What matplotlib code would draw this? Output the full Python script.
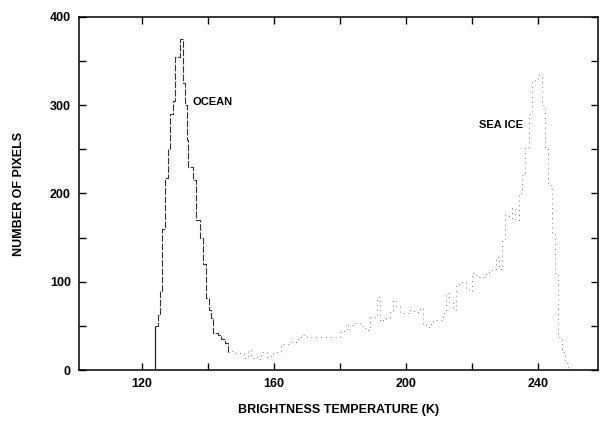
import numpy as np
import matplotlib
matplotlib.use("Agg")
import matplotlib.pyplot as plt
from matplotlib.ticker import MultipleLocator

plt.rcParams['font.family'] = ['Liberation Sans', 'DejaVu Sans']

# left edges of histogram steps (K) and pixel counts
ocean_temp = [124.0, 125.0, 125.5, 126.0, 127.0, 128.0, 128.5, 129.5, 130.0, 131.5,
              132.5, 133.0, 133.5, 134.0, 135.5, 136.5, 137.5, 138.5, 139.5, 140.2,
              141.0, 141.5, 143.0, 144.0, 145.0, 146.0]
ocean_count = [50, 62, 90, 160, 218, 250, 290, 305, 355, 375,
               325, 300, 260, 230, 215, 170, 150, 120, 82, 68,
               59, 42, 40, 35, 31, 20]

ice_temp = list(range(146, 250))
ice_count = [20, 22, 19, 19, 19, 14, 23, 14, 15, 12,
             21, 21, 15, 19, 20, 20, 30, 30, 30, 32,
             32, 35, 40, 40, 38, 37, 37, 37, 37, 38,
             37, 37, 37, 38, 43, 44, 51, 51, 53, 53,
             50, 48, 45, 60, 60, 83, 55, 58, 59, 66,
             79, 72, 65, 65, 65, 68, 67, 66, 70, 52,
             49, 52, 57, 57, 57, 65, 87, 76, 68, 96,
             99, 100, 92, 90, 110, 108, 105, 105, 110, 112,
             115, 128, 115, 147, 176, 172, 183, 170, 200, 221,
             253, 290, 327, 330, 334, 300, 253, 210, 155, 110,
             37, 20, 8, 0]

fig = plt.figure(figsize=(6.04, 4.21), dpi=100)
ax = fig.add_axes([0.131, 0.121, 0.859, 0.839])

# ocean peak prints fairly solid, the sea ice part is faint and broken
ax.step(ocean_temp, ocean_count, where='post', color='#333333', lw=0.8,
        linestyle=(0, (6, 1.5)))
ax.vlines(ocean_temp[0], 0, ocean_count[0], color='#222222', lw=0.9)
ax.step(ice_temp, ice_count, where='post', color='#777777', lw=0.7,
        linestyle=(0, (1, 4)))

ax.text(135.2, 304, "OCEAN", fontsize=8, fontweight='bold', va='center')
ax.text(222.0, 278, "SEA ICE", fontsize=8, fontweight='bold', va='center')

ax.set_xlim(101, 258)
ax.set_ylim(0, 400)
ax.xaxis.set_minor_locator(MultipleLocator(20))
ax.yaxis.set_major_locator(MultipleLocator(100))
ax.yaxis.set_minor_locator(MultipleLocator(50))
ax.set_xticks([120, 160, 200, 240])
ax.tick_params(which='both', direction='in', top=True, right=True,
               length=5, width=1, labelsize=9, pad=6)
for lab in ax.get_xticklabels() + ax.get_yticklabels():
    lab.set_fontweight('bold')
for s in ax.spines.values():
    s.set_linewidth(1.1)

ax.set_xlabel("BRIGHTNESS TEMPERATURE (K)", fontsize=9, fontweight='bold', labelpad=10)
ax.set_ylabel("NUMBER OF PIXELS", fontsize=9, fontweight='bold', labelpad=18)

fig.savefig("out.png", dpi=100)
